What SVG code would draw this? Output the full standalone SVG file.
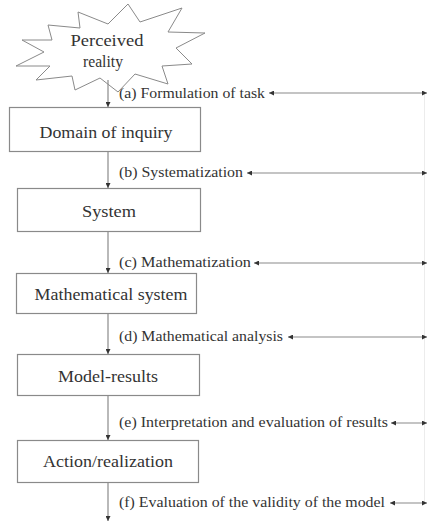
<svg xmlns="http://www.w3.org/2000/svg" width="428" height="528" viewBox="0 0 428 528">
<style>
.box{fill:#fff;stroke:#8a8a8a;stroke-width:1.2}
.bt{font-family:'Liberation Serif','Times New Roman','DejaVu Serif',serif;font-size:17.5px;fill:#333;text-anchor:middle}
.lb{font-family:'Liberation Serif','Times New Roman','DejaVu Serif',serif;font-size:14px;fill:#333}
.ln{stroke:#8a8a8a;stroke-width:1.2;fill:none}
</style>
<defs>
<marker id="ah" viewBox="0 0 10 10" refX="10" refY="5" markerWidth="5" markerHeight="5" markerUnits="userSpaceOnUse" orient="auto-start-reverse">
<path d="M0,0 L10,5 L0,10 Z" fill="#333"/>
</marker>
</defs>
<rect width="428" height="528" fill="#fff"/>
<g id="perceived-reality">
<path d="M48,25 L80,28 L78,12 L108,24 L128,4 L140,22 L182,8 L168,32 L205,33 L176,48 L192,64 L162,66 L168,84 L135,74 L118,92 L100,78 L75,90 L72,76 L36,80 L50,66 L16,66 L44,52 L22,40 L52,40 Z" fill="#fff" stroke="#8a8a8a" stroke-width="1"/>
<text class="bt" x="107" y="46" textLength="73" lengthAdjust="spacingAndGlyphs">Perceived</text>
<text class="bt" x="103" y="67" textLength="40" lengthAdjust="spacingAndGlyphs">reality</text>
</g>
<g id="domain">
<rect class="box" x="9.5" y="107.5" width="191" height="44"/>
<text class="bt" x="106" y="138" textLength="133" lengthAdjust="spacingAndGlyphs">Domain of inquiry</text>
</g>
<g id="system">
<rect class="box" x="17.5" y="188.5" width="183" height="43"/>
<text class="bt" x="109" y="217" textLength="54" lengthAdjust="spacingAndGlyphs">System</text>
</g>
<g id="math-system">
<rect class="box" x="16.5" y="273.5" width="180" height="40"/>
<text class="bt" x="111" y="300" textLength="153" lengthAdjust="spacingAndGlyphs">Mathematical system</text>
</g>
<g id="model-results">
<rect class="box" x="17.5" y="354.5" width="182" height="41"/>
<text class="bt" x="108" y="382" textLength="100" lengthAdjust="spacingAndGlyphs">Model-results</text>
</g>
<g id="action">
<rect class="box" x="17.5" y="440.5" width="181" height="42"/>
<text class="bt" x="108" y="467" textLength="130" lengthAdjust="spacingAndGlyphs">Action/realization</text>
</g>
<g id="labels">
<text class="lb" x="119" y="98" textLength="146" lengthAdjust="spacingAndGlyphs">(a) Formulation of task</text>
<text class="lb" x="119" y="177" textLength="124" lengthAdjust="spacingAndGlyphs">(b) Systematization</text>
<text class="lb" x="119" y="267" textLength="132" lengthAdjust="spacingAndGlyphs">(c) Mathematization</text>
<text class="lb" x="119" y="341" textLength="164" lengthAdjust="spacingAndGlyphs">(d) Mathematical analysis</text>
<text class="lb" x="119" y="427" textLength="269" lengthAdjust="spacingAndGlyphs">(e) Interpretation and evaluation of results</text>
<text class="lb" x="119" y="507" textLength="266" lengthAdjust="spacingAndGlyphs">(f) Evaluation of the validity of the model</text>
</g>
<g id="connectors">
<line class="ln" x1="108" y1="80" x2="108" y2="107" marker-end="url(#ah)"/>
<line class="ln" x1="108" y1="152" x2="108" y2="188" marker-end="url(#ah)"/>
<line class="ln" x1="108" y1="232" x2="108" y2="273" marker-end="url(#ah)"/>
<line class="ln" x1="108" y1="314" x2="108" y2="354" marker-end="url(#ah)"/>
<line class="ln" x1="108" y1="396" x2="108" y2="440" marker-end="url(#ah)"/>
<line class="ln" x1="108" y1="483" x2="108" y2="521" marker-end="url(#ah)"/>
<line x1="424.5" y1="93" x2="424.5" y2="503" stroke="#ececec" stroke-width="1"/>
<line class="ln" x1="269" y1="93" x2="427" y2="93" marker-start="url(#ah)" marker-end="url(#ah)"/>
<line class="ln" x1="247" y1="173" x2="427" y2="173" marker-start="url(#ah)" marker-end="url(#ah)"/>
<line class="ln" x1="254" y1="263" x2="427" y2="263" marker-start="url(#ah)" marker-end="url(#ah)"/>
<line class="ln" x1="288" y1="337" x2="427" y2="337" marker-start="url(#ah)" marker-end="url(#ah)"/>
<line class="ln" x1="391" y1="423" x2="427" y2="423" marker-start="url(#ah)" marker-end="url(#ah)"/>
<line class="ln" x1="390" y1="503" x2="427" y2="503" marker-start="url(#ah)" marker-end="url(#ah)"/>
</g>
</svg>
